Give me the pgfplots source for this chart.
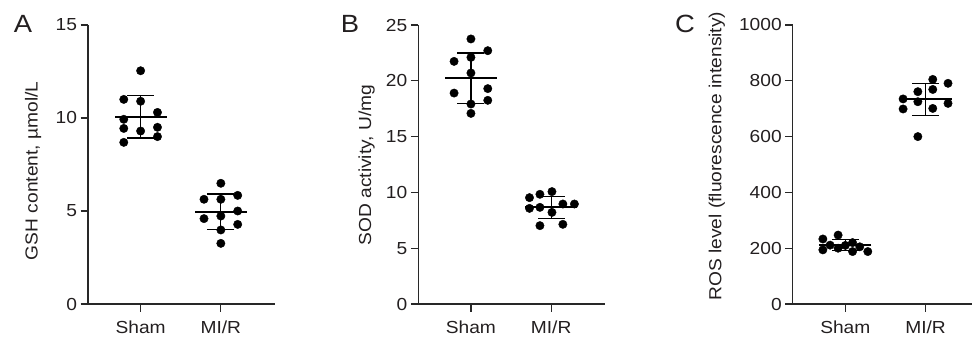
\documentclass[border=0pt]{standalone}
\usepackage{fontspec}
\setmainfont{Liberation Sans}[FakeStretch=1.1]
\usepackage{pgfplots}
\pgfplotsset{compat=1.18}
\definecolor{axisc}{RGB}{40,40,40}
\definecolor{textc}{RGB}{35,31,32}
\pgfplotsset{
 panel/.style={
  scale only axis, width=187bp, height=279bp,
  anchor=south west,
  axis x line*=bottom, axis y line*=left,
  axis line style={line width=1.3pt, color=axisc, -},
  xmin=-0.656, xmax=1.675, ymin=0,
  xtick={0,1}, xticklabels={Sham,MI/R},
  tick align=outside, major tick length=7.5bp,
  tick style={line width=1.3pt, color=axisc},
  ticklabel style={font=\fontsize{17.5}{20}\selectfont, text=textc},
  xticklabel style={yshift=-6bp},
  /pgf/number format/assume math mode=true,
  /pgf/number format/1000 sep={},
  label style={font=\fontsize{17.5}{20}\selectfont, text=textc},
  clip=false,
 },
 dots/.style={only marks, mark=*, mark size=4.2bp, color=black, forget plot},
 meanl/.style={only marks, mark=-, mark size=26bp, mark options={line width=2pt}, color=black, forget plot},
 sdbar/.style={draw=none, mark=none, forget plot, error bars/.cd, y dir=both, y explicit,
   error bar style={line width=1.3pt, color=black},
   error mark options={rotate=90, mark size=13.5bp, line width=1.3pt, color=black}},
}
\begin{document}
\begin{tikzpicture}
\useasboundingbox (0,0) rectangle (972bp,337bp);
% Panel A
\begin{axis}[panel, at={(88bp,33bp)}, ymax=15, ytick={0,5,10,15},
  ylabel={GSH content, µmol/L},
  ylabel style={at={(axis description cs:-0.294,0.477)}, anchor=center, rotate=0}]
\addplot[dots] coordinates {
 (0,12.54) (0,10.9) (0,9.30)
 (-0.21,11.0) (-0.21,9.93) (-0.21,9.44) (-0.21,8.69)
 (0.21,10.3) (0.21,9.5) (0.21,9.0)
 (1,6.49) (1,5.63) (1,4.73) (1,3.98) (1,3.26)
 (0.79,5.63) (0.79,4.59)
 (1.21,5.84) (1.21,5.0) (1.21,4.28)};
\addplot[sdbar] coordinates {(0,10.07) +- (0,1.15) (1,4.96) +- (0,0.96)};
\addplot[meanl] coordinates {(0,10.07) (1,4.96)};
\end{axis}
% Panel B
\begin{axis}[panel, at={(418.3bp,33bp)}, ymax=25, ytick={0,5,10,15,20,25},
  ylabel={SOD activity, U/mg},
  ylabel style={at={(axis description cs:-0.276,0.498)}, anchor=center, rotate=0}]
\addplot[dots] coordinates {
 (0,23.75) (0,22.1) (0,20.7) (0,17.92) (0,17.08)
 (-0.21,21.74) (-0.21,18.9)
 (0.21,22.7) (0.21,19.3) (0.21,18.25)
 (0.73,9.53) (0.73,8.57)
 (0.86,9.83) (0.86,8.66) (0.86,7.02)
 (1.01,10.07) (1.01,8.21)
 (1.146,8.96) (1.146,7.14)
 (1.29,8.96)};
\addplot[sdbar] coordinates {(0,20.22) +- (0,2.28) (1,8.66) +- (0,1.0)};
\addplot[meanl] coordinates {(0,20.22) (1,8.66)};
\end{axis}
% Panel C
\begin{axis}[panel, at={(792.7bp,33bp)}, ymax=1000, ytick={0,200,400,600,800,1000},
  ylabel={ROS level (fluorescence intensity)},
  ylabel style={at={(axis description cs:-0.406,0.53)}, anchor=center, rotate=0}]
\addplot[dots] coordinates {
 (-0.28,233) (-0.28,194) (-0.19,211) (-0.09,247) (-0.09,200)
 (0,210) (0.09,220) (0.09,188) (0.18,205) (0.28,188)
 (1.09,805) (1.28,791) (0.904,761) (1.09,769) (0.72,735)
 (0.904,725) (1.28,719) (0.72,699) (1.09,701) (0.904,600)};
\addplot[sdbar] coordinates {(0,211) +- (0,19) (1,733) +- (0,58)};
\addplot[meanl] coordinates {(0,211) (1,733)};
\end{axis}
% panel letters
\node[anchor=base, font=\fontsize{25}{28}\selectfont, text=textc] at (23bp,304bp) {A};
\node[anchor=base, font=\fontsize{25}{28}\selectfont, text=textc] at (350bp,304bp) {B};
\node[anchor=base, font=\fontsize{25}{28}\selectfont, text=textc] at (685bp,304bp) {C};
\end{tikzpicture}
\end{document}
